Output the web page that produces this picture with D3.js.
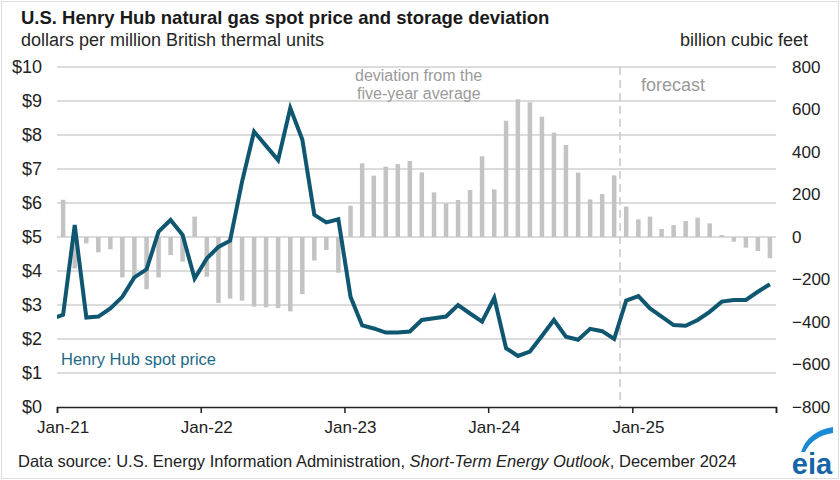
<!DOCTYPE html>
<html><head><meta charset="utf-8">
<script src="https://cdn.jsdelivr.net/npm/d3@7"></script>
<style>
body{margin:0;background:#fff;}
svg{font-family:"Liberation Sans",Arial,sans-serif;display:block;}
</style></head>
<body><svg id="chart" width="840" height="480"></svg>
<script>
// ---------------- data ----------------
const startMonth = "2021-01";          // first month shown
const endMonth = "2026-01";            // axis end (exclusive)
const forecastStart = "2024-12";       // first forecast month
const priorPrice = 2.59;               // Dec-2020 price (line enters from left edge)
// Henry Hub spot price, $/MMBtu, Jan-21 .. Dec-25
const prices = [
  2.71, 5.35, 2.63, 2.66, 2.90, 3.24, 3.81, 4.05, 5.16, 5.50, 5.06, 3.78,
  4.37, 4.71, 4.89, 6.63, 8.10, 7.68, 7.26, 8.79, 7.87, 5.65, 5.43, 5.52,
  3.24, 2.40, 2.31, 2.19, 2.19, 2.22, 2.56, 2.61, 2.66, 3.00, 2.75, 2.51,
  3.21, 1.73, 1.50, 1.63, 2.09, 2.56, 2.07, 1.98, 2.30, 2.23, 2.00, 3.13,
  3.26, 2.90, 2.66, 2.41, 2.39, 2.56, 2.80, 3.10, 3.15, 3.15, 3.39, 3.61
];
// Storage deviation from five-year average, Bcf, Jan-21 .. Dec-25
const storageDev = [
  175, -148, -30, -72, -58, -190, -195, -246, -190, -85, -116, 96,
  -187, -310, -290, -300, -328, -331, -334, -350, -269, -111, -61, -168,
  147, 347, 289, 331, 343, 358, 304, 210, 158, 174, 221, 380,
  224, 547, 648, 634, 566, 491, 433, 303, 177, 202, 290, 143,
  83, 96, 38, 56, 75, 91, 64, 9, -22, -50, -66, -100
];
const yearTicks = ["2021-01","2022-01","2023-01","2024-01","2025-01","2026-01"];
const yearLabels = ["Jan-21","Jan-22","Jan-23","Jan-24","Jan-25"];
const leftTicks = [0,1,2,3,4,5,6,7,8,9,10];
const rightTicks = [-800,-600,-400,-200,0,200,400,600,800];

// ---------------- layout ----------------
const svg = d3.select("#chart");
const parse = d3.timeParse("%Y-%m");
const plot = {left:57, right:776, top:67, bottom:407};

const months = d3.timeMonth.range(parse(startMonth), parse(endMonth));
const x = d3.scaleTime().domain([parse(startMonth), parse(endMonth)]).range([plot.left, plot.right]);
const mid = d => { const n = d3.timeMonth.offset(d,1); return (x(d)+x(n))/2; };
const yL = d3.scaleLinear().domain([0,10]).range([plot.bottom, plot.top]);
const yR = d3.scaleLinear().domain([-800,800]).range([plot.bottom, plot.top]);

// frame
svg.append("rect").attr("x",1.5).attr("y",1.5).attr("width",837).attr("height",477)
  .attr("fill","none").attr("stroke","#dcdcdc");

// gridlines
svg.append("g").selectAll("line").data(leftTicks.filter(t=>t>0)).join("line")
  .attr("x1",plot.left).attr("x2",plot.right)
  .attr("y1",d=>yL(d)).attr("y2",d=>yL(d))
  .attr("stroke","#d0d0d0").attr("stroke-width",1.5);

// bars
const barW = 4.5;
svg.append("g").selectAll("rect").data(storageDev).join("rect")
  .attr("x",(d,i)=>mid(months[i])-barW/2)
  .attr("width",barW)
  .attr("y",d=>yR(Math.max(0,d)))
  .attr("height",d=>Math.abs(yR(d)-yR(0)))
  .attr("fill","#c3c3c3");

// forecast divider
const fx = x(parse(forecastStart));
svg.append("line").attr("x1",fx).attr("x2",fx).attr("y1",plot.top).attr("y2",plot.bottom)
  .attr("stroke","#c8c8c8").attr("stroke-width",1.5).attr("stroke-dasharray","8,5");

// price line (clipped to plot area)
svg.append("clipPath").attr("id","clip").append("rect")
  .attr("x",plot.left).attr("y",0).attr("width",plot.right-plot.left).attr("height",480);
const linePts = [[mid(d3.timeMonth.offset(months[0],-1)), priorPrice]]
  .concat(prices.map((p,i)=>[mid(months[i]), p]));
svg.append("path").datum(linePts)
  .attr("clip-path","url(#clip)")
  .attr("d", d3.line().x(d=>d[0]).y(d=>yL(d[1])))
  .attr("fill","none").attr("stroke","#0f5670").attr("stroke-width",4)
  .attr("stroke-linejoin","miter");

// bottom axis
const xAxis = d3.axisBottom(x).tickValues(yearTicks.map(parse)).tickSize(6).tickFormat("");
const gx = svg.append("g").attr("transform",`translate(0,${plot.bottom})`).call(xAxis);
gx.select(".domain").attr("stroke","#222").attr("stroke-width",1.5);
gx.selectAll(".tick line").attr("stroke","#222").attr("stroke-width",1.5);
svg.append("g").selectAll("text").data(yearLabels).join("text")
  .attr("x",(d,i)=>mid(parse(yearTicks[i])))
  .attr("y",433).attr("text-anchor","middle")
  .attr("font-size",17).attr("fill","#222").text(d=>d);

// left axis
const gl = svg.append("g").attr("transform",`translate(${plot.left},0)`)
  .call(d3.axisLeft(yL).tickValues(leftTicks).tickSize(0).tickPadding(15).tickFormat(d=>"$"+d));
gl.select(".domain").remove();
gl.selectAll("text").attr("font-size",18).attr("fill","#222").attr("font-family","Liberation Sans, Arial, sans-serif");

// right axis
const gr = svg.append("g").attr("transform",`translate(${plot.right},0)`)
  .call(d3.axisRight(yR).tickValues(rightTicks).tickSize(0).tickPadding(16));
gr.select(".domain").remove();
gr.selectAll("text").attr("font-size",17).attr("fill","#222").attr("font-family","Liberation Sans, Arial, sans-serif");

// titles
svg.append("text").attr("x",21).attr("y",24).attr("font-size",18.5).attr("font-weight","bold")
  .attr("fill","#1a1a1a").text("U.S. Henry Hub natural gas spot price and storage deviation");
svg.append("text").attr("x",21).attr("y",46).attr("font-size",18).attr("fill","#262626")
  .text("dollars per million British thermal units");
svg.append("text").attr("x",808).attr("y",46).attr("font-size",18).attr("fill","#262626")
  .attr("text-anchor","end").text("billion cubic feet");

// annotations
const grayTxt = svg.append("g").attr("font-size",16).attr("fill","#9a9a9a");
grayTxt.append("text").attr("x",355).attr("y",81).text("deviation from the");
grayTxt.append("text").attr("x",357).attr("y",99).text("five-year average");
grayTxt.append("text").attr("x",641).attr("y",91).attr("font-size",18).text("forecast");
svg.append("text").attr("x",61).attr("y",365).attr("font-size",16.5).attr("fill","#1d6a86")
  .text("Henry Hub spot price");

// source
const src = svg.append("text").attr("x",18).attr("y",467).attr("font-size",16.5).attr("fill","#222");
src.append("tspan").text("Data source: U.S. Energy Information Administration, ");
src.append("tspan").attr("font-style","italic").text("Short-Term Energy Outlook");
src.append("tspan").text(", December 2024");

// eia logo
const logo = svg.append("g");
logo.append("path").attr("d","M801,452 Q808,431 833,427 L833,433 Q813,436 805,452 Z").attr("fill","#1a8ad4");
logo.append("text").attr("x",812).attr("y",474).attr("text-anchor","middle")
  .attr("font-size",29).attr("font-weight","bold").attr("fill","#1565a8").text("eia");
</script></body></html>
